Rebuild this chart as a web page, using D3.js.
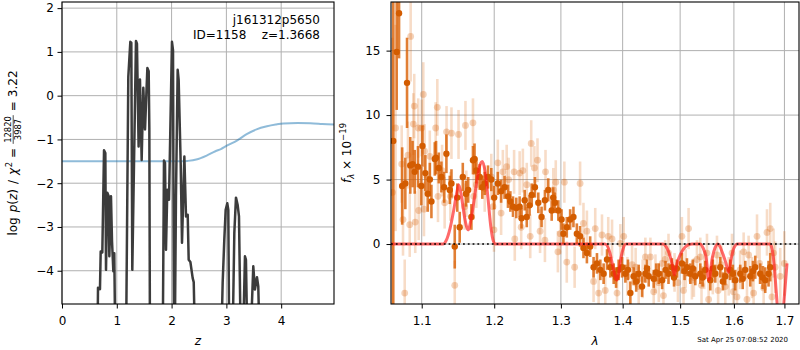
<!DOCTYPE html>
<html><head><meta charset="utf-8">
<script src="https://cdn.jsdelivr.net/npm/d3@7"></script>
<style>
body{margin:0;background:#fff}
svg text{font-family:"DejaVu Sans",sans-serif;fill:#000}
</style>
</head><body>
<svg id="c" width="800" height="350"></svg>
<script>
// ---------------- DATA ----------------
// Left panel: redshift PDF (log p(z)) and prior curve
const zGrid = [0,0.62,0.645,0.657,0.693,0.706,0.736,0.767,0.791,0.803,0.827,0.852,0.864,0.894,0.913,0.937,0.954,0.975,0.99,
  1.15,1.167,1.21,1.247,1.265,1.283,1.350,1.368,1.398,1.423,1.454,1.484,1.515,1.558,1.582,1.594,1.606,1.62,
  1.82,1.837,1.861,1.880,1.898,1.922,1.953,2.007,2.026,2.044,2.056,2.080,2.111,2.129,2.166,2.190,2.233,2.263,2.294,2.312,2.343,2.385,2.404,2.434,2.45,
  2.88,2.901,2.932,2.962,2.987,3.017,3.035,3.054,3.108,3.145,3.175,3.206,3.230,3.266,3.297,3.339,3.357,3.388,3.43,3.491,3.521,3.558,3.582,3.613,3.63,4.964];
const logPz = [-10,-10,-6,-4.39,-4.42,-3.56,-3.58,-1.25,-1.31,-3.98,-2.22,-2.30,-3.67,-2.30,-3.33,-4.01,-3.6,-6,-10,
  -10,-6,0.43,1.23,1.21,-3.98,1.25,1.19,-1.16,0.37,-1.47,0.18,-0.77,0.63,0.56,-0.77,-6,-10,
  -10,-6,-1.48,-1.54,-3.52,-2.15,-2.38,1.23,1.04,-6,-6,-2.3,0.59,0.36,-1.54,-3.36,-1.39,-2.76,-2.72,-3.75,-3.80,-4.17,-4.26,-6,-10,
  -10,-6,-4.28,-3.29,-2.61,-2.46,-2.61,-6,-6,-3.14,-2.33,-2.50,-2.76,-6,-6,-3.67,-3.75,-6,-6,-3.90,-4.43,-4.15,-4.36,-6,-10,-10];
const priorZ = [0,2.2,2.3,2.45,2.64,2.8,2.9,3.0,3.2,3.37,3.55,3.74,3.9,4.04,4.3,4.53,4.75,4.964];
const priorVal = [-1.5,-1.5,-1.49,-1.46,-1.37,-1.27,-1.22,-1.15,-1.02,-0.88,-0.77,-0.70,-0.66,-0.635,-0.625,-0.63,-0.645,-0.66];

// Right panel: spectrum (units 1e-19)
const darkWave = [1.0631,1.0675,1.0705,1.0745,1.0786,1.0808,1.0850,1.0880,1.0908,1.0951,
  1.0995,1.1010,1.1048,1.1080,1.1108,1.1129,1.1174,1.1191,1.1228,1.1263,
  1.1300,1.1331,1.1377,1.1400,1.1445,1.1480,1.1513,1.1556,1.1600,1.1631,
  1.1676,1.1698,1.1720,1.1745,1.1793,1.1830,1.1864,1.1911,1.1958,1.2000,
  1.2052,1.2100,1.2150,1.2200,1.2235,1.2274,1.2322,1.2372,1.2400,1.2447,
  1.2478,1.2520,1.2553,1.2601,1.2652,1.2702,1.2753,1.2804,1.2857,1.2880,
  1.2907,1.2960,1.3010,1.3039,1.3092,1.3145,1.3197,1.3251,1.3303,1.3357,
  1.3412,1.3465,1.3520,1.3575,1.3630,1.3684,1.3740,1.3795,1.3850,1.3890,
  1.3933,1.3990,1.4046,1.4090,1.4130,1.4187,1.4230,1.4272,1.4330,1.4387,
  1.4415,1.4445,1.4532,1.4575,1.4620,1.4680,1.4740,1.4792,1.4852,1.4890,
  1.4942,1.5032,1.5080,1.5123,1.5184,1.5230,1.5275,1.5367,1.5410,1.5460,
  1.5553,1.5600,1.5646,1.5740,1.5790,1.5835,1.5930,1.5980,1.6026,1.6122,
  1.6170,1.6220,1.6317,1.6370,1.6415,1.6514,1.6560,1.6613,1.6679,1.6713];
const darkFlux = [8.0,14.9,17.9,4.5,4.7,12.5,6.1,6.2,5.6,6.0,
  4.5,7.6,5.5,3.9,5.0,3.3,6.6,6.7,5.9,5.2,
  4.4,7.0,4.2,4.7,-0.2,3.6,1.3,5.2,3.9,4.2,
  2.1,6.5,6.6,5.7,5.2,4.4,4.7,5.2,5.0,3.6,
  4.7,4.1,4.4,3.7,3.3,2.9,2.8,2.9,2.0,3.4,
  2.1,3.0,3.8,4.4,3.2,2.1,3.4,4.2,2.6,3.6,
  3.2,2.6,1.9,0.8,1.3,1.9,2.1,0.8,0.6,-0.3,
  -0.7,-0.2,-1.8,-1.5,-2.0,-2.3,-1.2,-1.8,-2.3,-2.6,
  -2.0,-1.8,-2.3,-2.0,-3.8,-2.5,-2.9,-2.3,-3.3,-2.3,
  -1.9,-2.5,-2.7,-2.2,-2.3,-2.8,-2.0,-2.3,-1.8,-2.6,
  -1.9,-1.5,-2.1,-1.8,-2.3,-1.9,-2.5,-2.3,-2.6,-2.0,
  -2.8,-1.9,-2.3,-1.8,-2.9,-2.5,-2.0,-2.3,-2.8,-2.3,
  -2.7,-2.0,-2.5,-2.1,-1.8,-2.3,-2.6,-2.8,-2.3,-1.8];
const darkErr = [25,4.5,3.5,3.0,2.0,3.5,2.2,1.8,1.7,1.6,
  1.5,1.6,1.4,1.4,1.3,1.3,1.3,1.3,1.2,1.2,
  1.2,1.5,1.1,1.1,1.7,1.1,1.2,1.1,1.0,1.0,
  1.0,1.1,1.2,1.0,1.0,0.9,0.9,0.9,0.9,0.9,
  0.9,0.9,0.9,0.9,0.8,0.8,0.8,0.8,0.8,0.8,
  0.8,0.8,0.9,0.8,0.8,0.8,0.8,0.9,0.8,0.8,
  0.8,0.8,0.8,0.8,0.8,0.8,0.8,0.8,0.8,0.8,
  0.8,0.8,0.8,0.8,0.8,0.8,0.8,0.8,0.8,0.8,
  0.8,0.8,0.7,0.8,0.9,0.7,0.8,0.7,0.8,0.7,
  0.7,0.8,0.7,0.7,0.8,0.7,0.7,0.8,0.7,0.7,
  0.7,0.8,0.7,0.7,0.8,0.7,0.7,0.8,0.7,0.7,
  0.8,0.7,0.7,0.8,0.7,0.7,0.8,0.7,0.8,0.7,
  0.8,0.7,0.8,0.8,0.9,0.8,0.9,1.0,1.0,1.1];

const lightWave = [1.0620,1.0660,1.0739,1.0756,1.0778,1.0820,1.0843,1.0855,1.0890,1.0902,
  1.0915,1.0954,1.0960,1.0999,1.1021,1.1030,1.1038,1.1107,1.1186,1.1208,
  1.1217,1.1272,1.1307,1.1333,1.1385,1.1400,1.1445,1.1497,1.1582,1.1593,
  1.1605,1.1698,1.1708,1.1745,1.1864,1.1958,1.1983,1.1997,1.2052,1.2100,
  1.2125,1.2181,1.2210,1.2290,1.2300,1.2372,1.2395,1.2420,1.2478,1.2530,
  1.2545,1.2593,1.2640,1.2679,1.2753,1.2762,1.2882,1.2920,1.2953,1.2990,
  1.3054,1.3092,1.3216,1.3303,1.3357,1.3412,1.3520,1.3547,1.3602,1.3657,
  1.3711,1.3760,1.3823,1.3906,1.3962,1.4018,1.4080,1.4159,1.4220,1.4272,
  1.4340,1.4387,1.4474,1.4532,1.4562,1.4620,1.4680,1.4703,1.4733,1.4792,
  1.4900,1.4960,1.5032,1.5061,1.5100,1.5153,1.5214,1.5250,1.5306,1.5367,
  1.5390,1.5440,1.5491,1.5522,1.5600,1.5678,1.5700,1.5760,1.5835,1.5900,
  1.5963,1.5990,1.6059,1.6120,1.6188,1.6253,1.6285,1.6350,1.6383,1.6450,
  1.6500,1.6581,1.6648,1.6713,1.6747,1.6780,1.6813,1.6915,1.6998];
const lightFlux = [4.0,9.0,6.2,1.9,-3.8,6.9,1.5,16.1,9.3,10.7,
  1.7,9.0,2.6,9.0,11.6,2.7,7.2,6.8,9.0,10.6,
  3.7,5.7,3.2,8.7,3.7,8.6,-3.2,8.5,2.9,9.2,
  3.9,9.4,3.7,4.6,4.3,5.2,2.9,1.1,6.3,2.4,
  5.6,6.0,5.0,5.6,0.4,5.5,1.3,5.7,4.6,0.6,
  7.8,5.9,6.5,1.0,0.3,5.6,4.2,4.8,-0.6,0.8,
  4.8,-1.4,-1.8,4.7,1.6,1.0,-2.9,1.2,-3.8,0.7,
  -3.6,0.6,0.4,-3.8,0.05,0.6,-2.5,-1.6,-1.8,-3.3,
  -2.7,-1.0,-1.0,-3.7,-2.3,-3.0,-1.5,-4.0,-1.2,-0.7,
  -2.2,-3.0,0.6,-3.6,-1.9,1.2,-2.8,-2.6,-1.2,-1.0,
  -3.2,-2.0,-0.7,-4.3,-2.4,-0.85,-3.6,-1.6,-3.3,-2.5,
  -0.7,-3.7,-4.1,-2.0,-0.6,-4.3,-0.85,-2.6,-3.8,0.6,
  -1.5,-3.4,0.9,1.2,-4.1,-0.7,-1.8,-2.5,-1.5];
const lightErr = [12,8,3.0,2.8,2.6,2.6,2.5,3.5,2.4,2.5,
  2.4,2.3,2.3,2.2,2.5,2.1,2.1,2.0,2.0,2.2,
  2.0,2.0,2.0,2.0,1.9,2.0,1.9,1.9,1.8,1.9,
  1.8,1.9,1.8,1.8,1.8,1.8,1.7,1.7,1.8,1.7,
  1.7,1.7,1.7,1.7,1.7,1.7,1.7,1.7,1.7,1.7,
  1.8,1.7,1.7,1.7,1.7,1.7,1.7,1.7,1.6,1.6,
  1.6,1.6,1.6,1.7,1.6,1.6,1.6,1.6,1.7,1.6,
  1.6,1.5,1.5,1.6,1.5,1.5,1.5,1.5,1.5,1.5,
  1.5,1.5,1.5,1.5,1.5,1.5,1.5,1.5,1.5,1.5,
  1.5,1.5,1.5,1.5,1.5,1.6,1.5,1.5,1.5,1.5,
  1.5,1.5,1.5,1.5,1.5,1.5,1.5,1.5,1.5,1.5,
  1.5,1.5,1.6,1.5,1.5,1.6,1.5,1.6,1.6,1.7,
  1.6,1.7,1.8,2.0,1.8,1.9,2.0,2.2,2.5];

const modelWave = [1.0602,1.1285,1.1330,1.1380,1.1430,1.1470,1.1500,1.1540,1.1580,1.1630,
  1.1680,1.1740,1.1790,1.1830,1.1870,1.1910,1.1950,1.1990,1.2020,1.3706,
  1.3789,1.3839,1.3875,1.3900,1.3930,1.3956,1.4006,1.4057,1.4696,1.4749,
  1.4802,1.4855,1.4896,1.4944,1.5016,1.5088,1.5161,1.5215,1.5362,1.5418,
  1.5473,1.5529,1.5585,1.5641,1.5697,1.5735,1.5792,1.5849,1.5897,1.5944,
  1.6001,1.6069,1.6709,1.6750,1.6789,1.6830,1.6870,1.6935,1.6990,1.7053];
const modelFlux = [0,0,0.3,1.2,2.6,3.9,4.6,3.6,2.1,1.1,
  2.2,4.4,6.0,6.4,5.6,3.6,1.4,0.2,0,0,
  -0.7,-1.8,-2.5,-2.8,-2.4,-1.5,-0.4,0,0,-0.2,
  -0.7,-1.5,-2.4,-1.5,-0.7,-0.25,-0.03,0,0,-0.3,
  -1.0,-2.8,-1.2,-0.3,0,-0.2,-0.8,-1.5,-2.2,-1.2,
  -0.3,0,0,-0.4,-1.5,-3.5,-5.5,-7,-4.5,-1.5];

const leftXTicks = [0,1,2,3,4];
const leftYTicks = [-4,-3,-2,-1,0,1,2];
const rightXTicks = [1.1,1.2,1.3,1.4,1.5,1.6,1.7];
const rightYTicks = [0,5,10,15];
const rightXTickLabels = ["1.1","1.2","1.3","1.4","1.5","1.6","1.7"];

// ---------------- DRAW ----------------
const svg = d3.select("#c");
const L = {x0:62, x1:334, y0:2, y1:304};
const R = {x0:391, x1:799, y0:2, y1:304};

const xL = d3.scaleLinear().domain([0,4.964]).range([L.x0,L.x1]);
const yL = d3.scaleLinear().domain([-4.76,2.14]).range([L.y1,L.y0]);
const xR = d3.scaleLog().domain([1.0602,1.730]).range([R.x0,R.x1]);
const yR = d3.scaleLinear().domain([-4.65,18.77]).range([R.y1,R.y0]);

const defs = svg.append("defs");
defs.append("clipPath").attr("id","clipL").append("rect")
  .attr("x",L.x0).attr("y",L.y0).attr("width",L.x1-L.x0).attr("height",L.y1-L.y0);
defs.append("clipPath").attr("id","clipR").append("rect")
  .attr("x",R.x0).attr("y",R.y0).attr("width",R.x1-R.x0).attr("height",R.y1-R.y0);

function grid(box, xs, xt, ys, yt){
  const g = svg.append("g").attr("stroke","#b0b0b0").attr("stroke-width",1);
  xt.forEach(v=>g.append("line").attr("x1",xs(v)).attr("x2",xs(v)).attr("y1",box.y0).attr("y2",box.y1));
  yt.forEach(v=>g.append("line").attr("y1",ys(v)).attr("y2",ys(v)).attr("x1",box.x0).attr("x2",box.x1));
}
grid(L, xL, leftXTicks, yL, leftYTicks);
grid(R, xR, rightXTicks, yR, rightYTicks);

// ---- Left panel curves
const gL = svg.append("g").attr("clip-path","url(#clipL)");
gL.append("path")
  .datum(d3.zip(priorZ, priorVal))
  .attr("fill","none").attr("stroke","#1f77b4").attr("stroke-opacity",0.5).attr("stroke-width",2)
  .attr("d", d3.line().x(d=>xL(d[0])).y(d=>yL(d[1])).curve(d3.curveMonotoneX));
gL.append("path")
  .datum(d3.zip(zGrid, logPz))
  .attr("fill","none").attr("stroke","#3c3c3c").attr("stroke-width",2.5).attr("stroke-linejoin","round")
  .attr("d", d3.line().x(d=>xL(d[0])).y(d=>yL(d[1])));

// ---- Right panel data
const gR = svg.append("g").attr("clip-path","url(#clipR)");
const col = "#d95f02";
const light = d3.zip(lightWave, lightFlux, lightErr);
const dark = d3.zip(darkWave, darkFlux, darkErr);
gR.append("g").selectAll("line").data(light).join("line")
  .attr("x1",d=>xR(d[0])).attr("x2",d=>xR(d[0]))
  .attr("y1",d=>yR(d[1]-d[2])).attr("y2",d=>yR(d[1]+d[2]))
  .attr("stroke",col).attr("stroke-opacity",0.22).attr("stroke-width",2.6);
gR.append("g").selectAll("circle").data(light).join("circle")
  .attr("cx",d=>xR(d[0])).attr("cy",d=>yR(d[1])).attr("r",3.4)
  .attr("fill",col).attr("fill-opacity",0.28);
gR.append("g").selectAll("line").data(dark).join("line")
  .attr("x1",d=>xR(d[0])).attr("x2",d=>xR(d[0]))
  .attr("y1",d=>yR(d[1]-d[2])).attr("y2",d=>yR(d[1]+d[2]))
  .attr("stroke",col).attr("stroke-opacity",0.8).attr("stroke-width",2.6);
gR.append("g").selectAll("circle").data(dark).join("circle")
  .attr("cx",d=>xR(d[0])).attr("cy",d=>yR(d[1])).attr("r",3.2)
  .attr("fill","#d35c00");
gR.append("path")
  .datum(d3.zip(modelWave, modelFlux))
  .attr("fill","none").attr("stroke","#ff1a1a").attr("stroke-opacity",0.65).attr("stroke-width",3)
  .attr("stroke-linejoin","round")
  .attr("d", d3.line().x(d=>xR(d[0])).y(d=>yR(d[1])).curve(d3.curveMonotoneX));
gR.append("line")
  .attr("x1",R.x0).attr("x2",R.x1).attr("y1",yR(0)).attr("y2",yR(0))
  .attr("stroke","#000").attr("stroke-width",1.6).attr("stroke-dasharray","1.8,3");

// ---- Axes
function styleAxis(g){
  g.select(".domain").remove();
  g.selectAll("text").attr("font-size",12).attr("font-family","DejaVu Sans, sans-serif").attr("fill","#000");
  g.selectAll(".tick line").attr("stroke","#000").attr("stroke-width",1);
}
svg.append("g").attr("transform",`translate(0,${L.y1})`)
  .call(d3.axisBottom(xL).tickValues(leftXTicks).tickSize(4.5).tickPadding(7.5).tickFormat(d3.format("d")))
  .call(styleAxis);
svg.append("g").attr("transform",`translate(${L.x0},0)`)
  .call(d3.axisLeft(yL).tickValues(leftYTicks).tickSize(4.5).tickPadding(3.5).tickFormat(d3.format("d")))
  .call(styleAxis);
svg.append("g").attr("transform",`translate(0,${R.y1})`)
  .call(d3.axisBottom(xR).tickValues(rightXTicks).tickSize(4.5).tickPadding(7.5).tickFormat((d,i)=>rightXTickLabels[i]))
  .call(styleAxis);
svg.append("g").attr("transform",`translate(${R.x0},0)`)
  .call(d3.axisLeft(yR).tickValues(rightYTicks).tickSize(4.5).tickPadding(6).tickFormat(d3.format("d")))
  .call(styleAxis);

// spines
[L,R].forEach(b=>svg.append("rect").attr("x",b.x0).attr("y",b.y0).attr("width",b.x1-b.x0).attr("height",b.y1-b.y0)
  .attr("fill","none").attr("stroke","#000").attr("stroke-width",1.1));

// ---- Texts
svg.append("text").attr("x",320).attr("y",24).attr("text-anchor","end").attr("font-size",12).text("j161312p5650");
svg.append("text").attr("x",320).attr("y",38.5).attr("text-anchor","end").attr("font-size",12)
  .attr("xml:space","preserve").style("white-space","pre").text("ID=1158    z=1.3668");

svg.append("text").attr("x",(L.x0+L.x1)/2).attr("y",345).attr("text-anchor","middle").attr("font-size",12)
  .attr("font-style","italic").text("z");
svg.append("text").attr("x",(R.x0+R.x1)/2).attr("y",345).attr("text-anchor","middle").attr("font-size",12)
  .attr("font-style","italic").text("λ");

// left y label with fraction
(function(){
  const g = svg.append("g").attr("transform",`translate(17,${(L.y0+L.y1)/2}) rotate(-90)`);
  const inner = g.append("g");
  const t1 = inner.append("text").attr("font-size",12);
  t1.append("tspan").text("log");
  t1.append("tspan").attr("dx",5).attr("font-style","italic").text("p");
  t1.append("tspan").text("(");
  t1.append("tspan").attr("font-style","italic").text("z");
  t1.append("tspan").text(")");
  t1.append("tspan").attr("dx",5).text("/");
  t1.append("tspan").attr("dx",5).attr("font-style","italic").text("χ");
  t1.append("tspan").attr("font-size",8.5).attr("dy",-5).attr("dx",0.5).text("2");
  t1.append("tspan").attr("dy",5).attr("dx",4).text("=");
  const w1 = t1.node().getComputedTextLength() + 5 + 5 + 5 + 0.5 + 4 + 4;
  const num = inner.append("text").attr("font-size",8.4).attr("text-anchor","middle").text("12820");
  const den = inner.append("text").attr("font-size",8.4).attr("text-anchor","middle").text("3987");
  const fw = Math.max(num.node().getComputedTextLength(), den.node().getComputedTextLength()) + 2;
  const fc = w1 + fw/2;
  num.attr("x",fc).attr("y",-5.6);
  den.attr("x",fc).attr("y",4.2);
  inner.append("line").attr("x1",w1).attr("x2",w1+fw).attr("y1",-3.8).attr("y2",-3.8)
    .attr("stroke","#000").attr("stroke-width",0.7);
  const t3 = inner.append("text").attr("font-size",12).attr("x",w1+fw+4);
  t3.append("tspan").text("=");
  t3.append("tspan").attr("dx",4).text("3.22");
  const w3 = t3.node().getComputedTextLength() + 8;
  inner.attr("transform",`translate(${-(w1+fw+w3)/2},0)`);
})();

// right y label
(function(){
  const t = svg.append("text").attr("transform",`translate(351,${(R.y0+R.y1)/2}) rotate(-90)`)
    .attr("text-anchor","middle").attr("font-size",12);
  t.append("tspan").attr("font-style","italic").text("f");
  t.append("tspan").attr("font-style","italic").attr("font-size",8.5).attr("dy",2.5).text("λ");
  t.append("tspan").attr("dy",-2.5).style("white-space","pre").text(" × 10");
  t.append("tspan").attr("font-size",8.5).attr("dy",-5).text("−19");
})();

svg.append("text").attr("x",788).attr("y",342).attr("text-anchor","end").attr("font-size",7).text("Sat Apr 25 07:08:52 2020");
</script>
</body></html>
